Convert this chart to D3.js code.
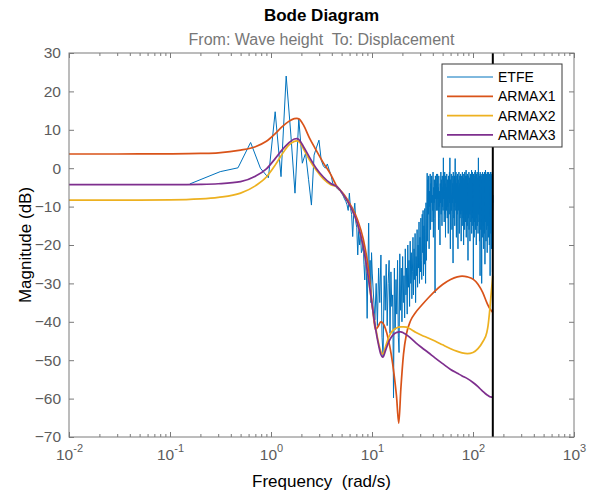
<!DOCTYPE html>
<html>
<head>
<meta charset="utf-8">
<script src="https://cdn.jsdelivr.net/npm/d3@7/dist/d3.min.js"></script>
<style>
  body { margin: 0; background: #fff; }
  svg { display: block; font-family: "Liberation Sans", Arial, Helvetica, sans-serif; }
</style>
</head>
<body>
<svg id="chart" width="599" height="493"></svg>
<script>
// ---- Axis ticks and labels ----
const xMajorTicks = [0.01, 0.1, 1, 10, 100, 1000];
const xMajorExponents = ["-2", "-1", "0", "1", "2", "3"];
const yTicks = [-70, -60, -50, -40, -30, -20, -10, 0, 10, 20, 30];

// ---- Series names and colours ----
const seriesNames = ["ETFE", "ARMAX1", "ARMAX2", "ARMAX3"];
const seriesColors = ["#0072BD", "#D95319", "#EDB120", "#7E2F8E"];

// ---- Nyquist frequency (rad/s) ----
const nyquistFreq = 157.08;

// ---- ETFE, low band: bins 1..64, spacing 0.15708 rad/s ----
const etfeLowStep = 0.15708;
const etfeLowDb = [
  -4.1, -0.9, 0.1, 6.7, 0.0, -2.5, 14.7, -2.2, 24.0, 8.9,
  -6.5, 12.8, 1.3, 3.9, -3.0, -9.6, 3.4, 5.5, 7.3, 2.1,
  0.6, 0.0, 1.1, -0.5, -1.8, -3.9, -4.4, -4.9, -5.4, -5.7,
  -6.0, -6.6, -7.2, -8.0, -8.6, -9.5, -11.0, -6.5, -10.5, -12.0,
  -17.8, -11.5, -9.1, -14.0, -15.5, -22.6, -16.0, -20.0, -17.0, -22.0,
  -21.3, -19.0, -25.0, -29.1, -22.0, -27.0, -39.1, -26.0, -14.3, -30.0,
  -24.0, -35.0, -22.0, -27.3
];

// ---- ETFE, high band: bins 34..500, spacing 0.31416 rad/s ----
const etfeHighStep = 0.31416;
const etfeHighFirstBin = 34;
const etfeHighDb = [
  // 10.7 .. 43.7 rad/s
  -39.5, -30, -41, -26, -35, -22.6, -44, -49, -28, -37,
  -25, -41, -30, -24, -43, -27, -36, -33, -59.8, -26,
  -42, -29, -38, -24, -44, -48, -22.3, -37, -26, -40,
  -23, -35, -28, -39, -21, -33, -26, -38, -20, -31,
  -24, -36, -19, -30, -22, -34, -27, -18, -33, -21,
  -29, -17, -35, -23, -28, -16, -31, -20, -26, -14,
  -30, -18, -27, -13, -24, -29, -12, -22, -11, -28,
  -15, -25, -10.5, -21, -30, -9, -24, -13, -1.3, -19,
  -3, -12, -2, -21, -6, -10, -1.5, -16, -4, -9,
  -2, -14, -7, -11, -1, -18, -5, -9, -3, -13,
  -32.5, -2, -8, -4, -11, -1.5,
  // 44.0 .. 157.1 rad/s
  -3, -11, -1.5, -8, -5, -16, -2, -10, -6, -13,
  -20, -4, -9, -1, -12, -3, -7, -15, -2, -10,
  -5, -11, 2.7, -8, -3, -14, -6, -1, -12, -4,
  -18, -2, -9, -5, -11, -1.5, -7, -13, -3, -10,
  -6, -17, -2, -8, -4, -12, -1, -9, 2.7, -14,
  -21, -3, -10, -5, -1.5, -11, -7, -16, -2, -9,
  -4, -12, -24.7, -1, -8, -6, -13, -3, -10, -2,
  -15, -5, 2.5, -9, -3, -11, -1, -7, -18, -4,
  -10, -2, -12, -6, -1.5, -14, -21, -3, -8, -5,
  -11, -1, -9, -17, -4, -7, -2, -13, -6, -10,
  -1.5, -12, -3, -19, -5, -8, -2, -11, -4, -15,
  -1, -9, -6, -13, -2.5, -10, -4, -20, -1.5, -8,
  -5, -12, -3, -16, -1, -9, -7, -11, -2, -14,
  -4, -10, -0.5, -18, -6, -8, -2, -12, -3, -15,
  -1.5, -9, -5, -11, -24, -2, -7, -13, -4, -10,
  -1, -16, -6, -8, -2.5, -12, -3, -19, -5, -9,
  -1.5, -11, -4, -14, -2, -8, -6, -12, -0.5, -17,
  -3, -10, -5, -13, -1, -9, -7, -15, -2, -11,
  -4, -29, -1.5, -8, -6, -12, -2, -18, -3, -10,
  -5, -14, -1, -9, -4, -11, -0.5, -16, -6, -8,
  -2, -13, -3, -20, -5, -10, -1.5, -12, -4, -9,
  -1, -15, -6, -11, -2.5, -8, -3, -17, -5, -10,
  2.7, -12, -4, -9, -1.5, -14, -6, -11, -2, -19,
  -3, -10, -5, -13, -28, -1, -8, -6, -12, -2,
  -16, -4, -9, -1.5, -11, -7, -14, -3, -30, -5,
  -10, -2, -12, -6, -18, -1, -9, -4, -13, -2.5,
  -11, -5, -15, -1.5, -8, -3, -21, -6, -10, -2,
  -12, -4, -17, -1, -9, -6, -13, -3, -25, -5,
  -10, -2, -14, -0.5, -8, -7, -11, -3, -19, -4,
  -12, -1.5, -9, -5, -16, -2, -10, -6, -13, -3,
  -22, -1, -8, -4, -11, -2.5, -15, -6, -9, -1.5,
  -12, -5, -18, -3, -10, -1, -14, -7, -9, -2,
  -13, -4, -20, -1.5, -8, -6, -11, -3, -16, -5,
  -28, -2, -10, -4, -12, -1, -9, -6, -17, -3,
  -11, -1.5, -14, -5, -8, -2, -21, -4, -10, -6,
  -13, -2, -9, -1, -18, -5, -27, -3, -11, -7,
  -9
];

// ---- ARMAX model responses (rad/s, dB) ----
const armaxFreq = [
  0.01, 0.03, 0.1, 0.2, 0.3, 0.5, 0.7, 0.9, 1.1, 1.3,
  1.5, 1.7, 1.8, 1.9, 2.1, 2.4, 2.8, 3.3, 3.9, 4.5,
  5.3, 6.2, 7.2, 8.2, 9.2, 10.2, 10.8, 11.5, 12.2, 12.8,
  13.6, 14.5, 15.5, 16.5, 17.5, 18.4, 19.3, 20.5, 22, 24,
  27, 31, 36, 42, 50, 60, 70, 78, 88, 100,
  112, 125, 137, 141, 147, 152, 157.08
];
const armax1Db = [
  3.7, 3.7, 3.75, 3.85, 4.0, 4.7, 5.6, 7.0, 9.0, 10.9,
  12.2, 12.9, 13.0, 12.8, 11.2, 7.9, 4.7, 1.4, -1.6, -4.8,
  -6.9, -9.8, -13.5, -18.5, -26, -37, -42.0, -41.2, -40.0, -40.3,
  -41.8, -44.5, -48.5, -53.5, -59.5, -66.4, -57.5, -48.5, -43, -39.8,
  -37.6, -35.7, -33.8, -32.0, -30.3, -29.0, -28.3, -28.1, -28.3, -28.9,
  -30.2, -32.4, -35.0, -35.7, -36.6, -37.1, -37.6
];
const armax2Db = [
  -8.3, -8.3, -8.25, -8.0, -7.6, -6.5, -4.6, -2.3, 0.8, 3.8,
  6.0, 7.0, 7.1, 6.9, 5.0, 2.2, -0.5, -2.8, -4.3, -4.8,
  -7.2, -10.3, -14.5, -20.5, -28.5, -37, -41, -45, -47.6, -48.4,
  -46.5, -44.3, -42.8, -42.0, -41.6, -41.4, -41.3, -41.3, -41.4, -41.9,
  -42.7, -43.5, -44.2, -45.0, -46.0, -47.0, -47.7, -48.1, -48.3, -48.0,
  -47.0, -45.2, -42.8, -41.0, -36.5, -32.0, -28.0
];
const armax3Db = [
  -4.3, -4.3, -4.28, -4.2, -4.05, -3.5, -2.1, -0.2, 2.5, 4.9,
  6.6, 7.6, 7.7, 7.4, 5.6, 2.9, 0.0, -2.3, -4.0, -4.8,
  -7.2, -10.3, -14.5, -20.5, -28.5, -37, -41.5, -45.5, -48.4, -49.2,
  -47.5, -45.5, -44.0, -43.2, -42.8, -42.6, -42.6, -42.9, -43.4, -44.2,
  -45.4, -46.7, -48.0, -49.4, -50.9, -52.4, -53.4, -54.1, -54.8, -55.8,
  -56.9, -58.1, -59.0, -59.2, -59.5, -59.6, -59.7
];

// ---- Build point lists ----
const etfePoints = []
  .concat(etfeLowDb.map((v, i) => ({ f: (i + 1) * etfeLowStep, v })))
  .concat(etfeHighDb.map((v, i) => ({ f: (i + etfeHighFirstBin) * etfeHighStep, v })));
const armaxSeries = [armax1Db, armax2Db, armax3Db].map(arr =>
  arr.map((v, i) => ({ f: armaxFreq[i], v })));

// ---- Layout ----
const plotL = 69, plotR = 574, plotT = 53, plotB = 437;
const axisGray = "#7a7a7a", tickTextGray = "#5c5c5c";

const svg = d3.select("#chart");
const x = d3.scaleLog().domain([0.01, 1000]).range([plotL, plotR]);
const y = d3.scaleLinear().domain([-70, 30]).range([plotB, plotT]);

// Titles
svg.append("text").attr("x", (plotL + plotR) / 2).attr("y", 21)
  .attr("text-anchor", "middle").attr("font-size", 17).attr("font-weight", "bold")
  .attr("fill", "#000").text("Bode Diagram");
svg.append("text").attr("x", (plotL + plotR) / 2).attr("y", 45)
  .attr("text-anchor", "middle").attr("font-size", 16).attr("fill", "#777")
  .attr("xml:space", "preserve").style("white-space", "pre")
  .text("From: Wave height  To: Displacement");

// Clip region for data
svg.append("defs").append("clipPath").attr("id", "plotClip")
  .append("rect").attr("x", plotL).attr("y", plotT)
  .attr("width", plotR - plotL).attr("height", plotB - plotT);

// Data lines
const dataG = svg.append("g").attr("clip-path", "url(#plotClip)");

const rawGen = d3.line().x(d => x(d.f)).y(d => y(d.v)).curve(d3.curveLinear);
dataG.append("path").datum(etfePoints)
  .attr("d", rawGen)
  .attr("fill", "none").attr("stroke", seriesColors[0])
  .attr("stroke-width", 1).attr("stroke-linejoin", "round");

const smoothGen = d3.line().x(d => x(d.f)).y(d => y(d.v)).curve(d3.curveMonotoneX);
armaxSeries.forEach((pts, i) => {
  dataG.append("path").datum(pts)
    .attr("d", smoothGen)
    .attr("fill", "none").attr("stroke", seriesColors[i + 1])
    .attr("stroke-width", 1.7).attr("stroke-linejoin", "round");
});

// Nyquist line
svg.append("line")
  .attr("x1", x(nyquistFreq)).attr("x2", x(nyquistFreq))
  .attr("y1", plotT).attr("y2", plotB)
  .attr("stroke", "#000").attr("stroke-width", 2);

// ---- Axes ----
const minorTicks = x.ticks().filter(t => !xMajorTicks.some(m => Math.abs(m - t) < 1e-9));

function styleAxis(g) {
  g.select(".domain").remove();
  g.selectAll(".tick line").attr("stroke", axisGray);
}

// bottom major, with 10^n labels
const gB = svg.append("g").attr("transform", `translate(0,${plotB})`)
  .call(d3.axisBottom(x).tickValues(xMajorTicks).tickSizeInner(-5).tickSizeOuter(0)
    .tickPadding(0).tickFormat(""))
  .call(styleAxis);
gB.selectAll(".tick text").each(function (d, i) {
  const t = d3.select(this);
  t.text(null).attr("y", 23).attr("dy", null).attr("fill", tickTextGray)
    .attr("font-size", 15.5).attr("text-anchor", "middle");
  t.append("tspan").text("10");
  t.append("tspan").attr("dy", -8).attr("font-size", 11).text(xMajorExponents[i]);
});
// bottom minor
svg.append("g").attr("transform", `translate(0,${plotB})`)
  .call(d3.axisBottom(x).tickValues(minorTicks).tickSizeInner(-3).tickSizeOuter(0).tickFormat(""))
  .call(styleAxis);
// top major + minor
svg.append("g").attr("transform", `translate(0,${plotT})`)
  .call(d3.axisTop(x).tickValues(xMajorTicks).tickSizeInner(-5).tickSizeOuter(0).tickFormat(""))
  .call(styleAxis);
svg.append("g").attr("transform", `translate(0,${plotT})`)
  .call(d3.axisTop(x).tickValues(minorTicks).tickSizeInner(-3).tickSizeOuter(0).tickFormat(""))
  .call(styleAxis);
// left
svg.append("g").attr("transform", `translate(${plotL},0)`)
  .call(d3.axisLeft(y).tickValues(yTicks).tickSizeInner(-5).tickSizeOuter(0).tickPadding(8))
  .call(styleAxis)
  .call(g => g.selectAll(".tick text").attr("fill", tickTextGray).attr("font-size", 15.5));
// right
svg.append("g").attr("transform", `translate(${plotR},0)`)
  .call(d3.axisRight(y).tickValues(yTicks).tickSizeInner(-5).tickSizeOuter(0).tickFormat(""))
  .call(styleAxis);

svg.selectAll("g").attr("font-family", null);

// Box
svg.append("rect").attr("x", plotL).attr("y", plotT)
  .attr("width", plotR - plotL).attr("height", plotB - plotT)
  .attr("fill", "none").attr("stroke", axisGray).attr("stroke-width", 1);

// Axis labels
svg.append("text").attr("x", (plotL + plotR) / 2).attr("y", 487)
  .attr("text-anchor", "middle").attr("font-size", 17).attr("fill", "#000")
  .attr("xml:space", "preserve").style("white-space", "pre")
  .text("Frequency  (rad/s)");
svg.append("text")
  .attr("transform", `translate(31,${(plotT + plotB) / 2}) rotate(-90)`)
  .attr("text-anchor", "middle").attr("font-size", 17).attr("fill", "#000")
  .text("Magnitude (dB)");

// ---- Legend ----
const legX = 442, legY = 64, legW = 120, legH = 83;
const legend = svg.append("g");
legend.append("rect").attr("x", legX).attr("y", legY).attr("width", legW).attr("height", legH)
  .attr("fill", "#fff").attr("stroke", "#3a3a3a").attr("stroke-width", 1);
seriesNames.forEach((name, i) => {
  const ly = legY + 13 + i * 19.3;
  legend.append("line").attr("x1", legX + 5).attr("x2", legX + 51)
    .attr("y1", ly).attr("y2", ly)
    .attr("stroke", seriesColors[i]).attr("stroke-width", i === 0 ? 1 : 1.7);
  legend.append("text").attr("x", legX + 56).attr("y", ly + 5)
    .attr("font-size", 14).attr("fill", "#000").text(name);
});
</script>
</body>
</html>
